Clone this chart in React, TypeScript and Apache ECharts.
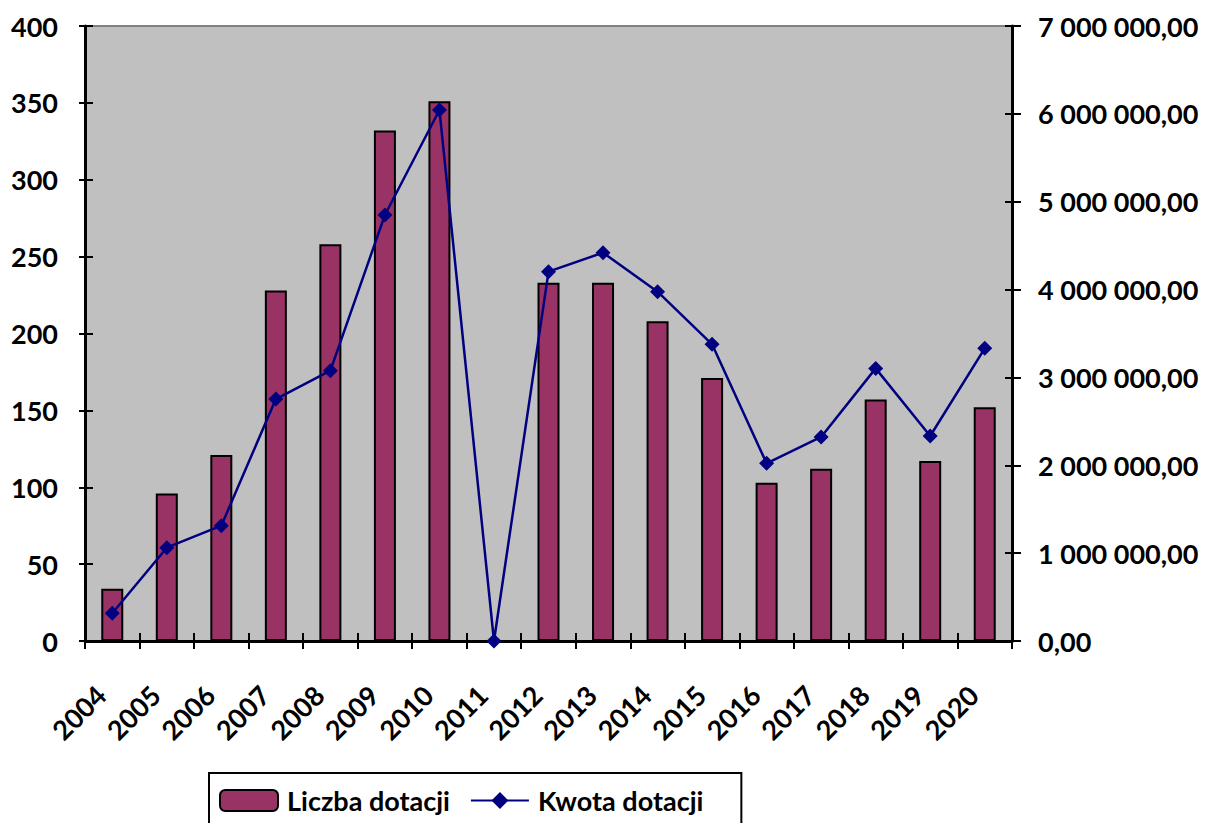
import React, { useEffect, useRef } from "react";
import * as echarts from "echarts";

const years = ["2004","2005","2006","2007","2008","2009","2010","2011","2012","2013","2014","2015","2016","2017","2018","2019","2020"];
const liczbaDotacji = [34, 96, 121, 228, 258, 332, 351, 0, 233, 233, 208, 171, 103, 112, 157, 117, 152];
const kwotaDotacji = [315000, 1062000, 1313000, 2754000, 3077000, 4849000, 6044000, 0, 4204000, 4420000, 3976000, 3377000, 2022000, 2322000, 3103000, 2333000, 3331000];
const leftTicks = { min: 0, max: 400, interval: 50 };
const rightTicks = { min: 0, max: 7000000, interval: 1000000 };

const FONT = "Lato";

function fmtMoney(v: number): string {
  const s = Math.round(v).toString();
  const withSpaces = s.replace(/\B(?=(\d{3})+(?!\d))/g, " ");
  return withSpaces + ",00";
}

export default function App() {
  const ref = useRef<HTMLDivElement>(null);
  useEffect(() => {
    if (!ref.current) return;
    const chart = echarts.init(ref.current, null, { renderer: "svg" });
    const labelStyle = { color: "#000", fontFamily: FONT, fontWeight: "bold" as const, fontSize: 27 };
    chart.setOption({
      animation: false,
      backgroundColor: "#ffffff",
      grid: {
        left: 85, right: 199, top: 26, bottom: 182,
        show: true, backgroundColor: "#c0c0c0", borderColor: "#808080", borderWidth: 2,
      },
      legend: {
        left: 209, top: 773,
        padding: [14, 38, 30, 10],
        borderColor: "#000", borderWidth: 2,
        backgroundColor: "#fff",
        itemWidth: 58, itemHeight: 21, itemGap: 20,
        textStyle: { ...labelStyle, padding: [0, 0, 0, 4] },
        data: ["Liczba dotacji", "Kwota dotacji"],
      },
      xAxis: [
        {
          type: "category", data: years, position: "bottom",
          axisLine: { show: true, lineStyle: { color: "#000", width: 3 } },
          axisTick: { show: true, inside: false, length: 8, lineStyle: { color: "#000", width: 2 } },
          axisLabel: { ...labelStyle, rotate: 45, margin: 38, interval: 0, padding: [0, 16, 0, 0] },
          splitLine: { show: false },
        },
        {
          type: "category", data: years, position: "bottom",
          axisLine: { show: false },
          axisTick: { show: true, inside: true, length: 8, lineStyle: { color: "#000", width: 2 } },
          axisLabel: { show: false },
          splitLine: { show: false },
        },
      ],
      yAxis: [
        {
          type: "value", position: "left", ...leftTicks,
          axisLine: { show: true, lineStyle: { color: "#000", width: 3 } },
          axisTick: { show: true, length: 6, lineStyle: { color: "#000", width: 2 } },
          axisLabel: { ...labelStyle, margin: 27 },
          splitLine: { show: false },
        },
        {
          type: "value", position: "right", ...rightTicks,
          axisLine: { show: true, lineStyle: { color: "#000", width: 3 } },
          axisTick: { show: true, length: 9, lineStyle: { color: "#000", width: 2 } },
          axisLabel: { ...labelStyle, margin: 26, formatter: (v: number) => fmtMoney(v) },
          splitLine: { show: false },
        },
        {
          type: "value", position: "left", ...leftTicks,
          axisLine: { show: false },
          axisTick: { show: true, inside: true, length: 8, lineStyle: { color: "#000", width: 2 } },
          axisLabel: { show: false },
          splitLine: { show: false },
        },
        {
          type: "value", position: "right", ...rightTicks,
          axisLine: { show: false },
          axisTick: { show: true, inside: true, length: 7, lineStyle: { color: "#000", width: 2 } },
          axisLabel: { show: false },
          splitLine: { show: false },
        },
      ],
      series: [
        {
          name: "Liczba dotacji", type: "bar", xAxisIndex: 0, yAxisIndex: 0,
          data: liczbaDotacji, barWidth: 22,
          itemStyle: { color: "#993366", borderColor: "#000", borderWidth: 2 },
        },
        {
          name: "Kwota dotacji", type: "line", xAxisIndex: 0, yAxisIndex: 1,
          data: kwotaDotacji,
          symbol: "diamond", symbolSize: 15,
          lineStyle: { color: "#000080", width: 2.5 },
          itemStyle: { color: "#000080" },
        },
      ],
    });
    return () => chart.dispose();
  }, []);
  return <div ref={ref} style={{ position: "absolute", left: 0, top: 0, width: 1211, height: 823 }} />;
}
